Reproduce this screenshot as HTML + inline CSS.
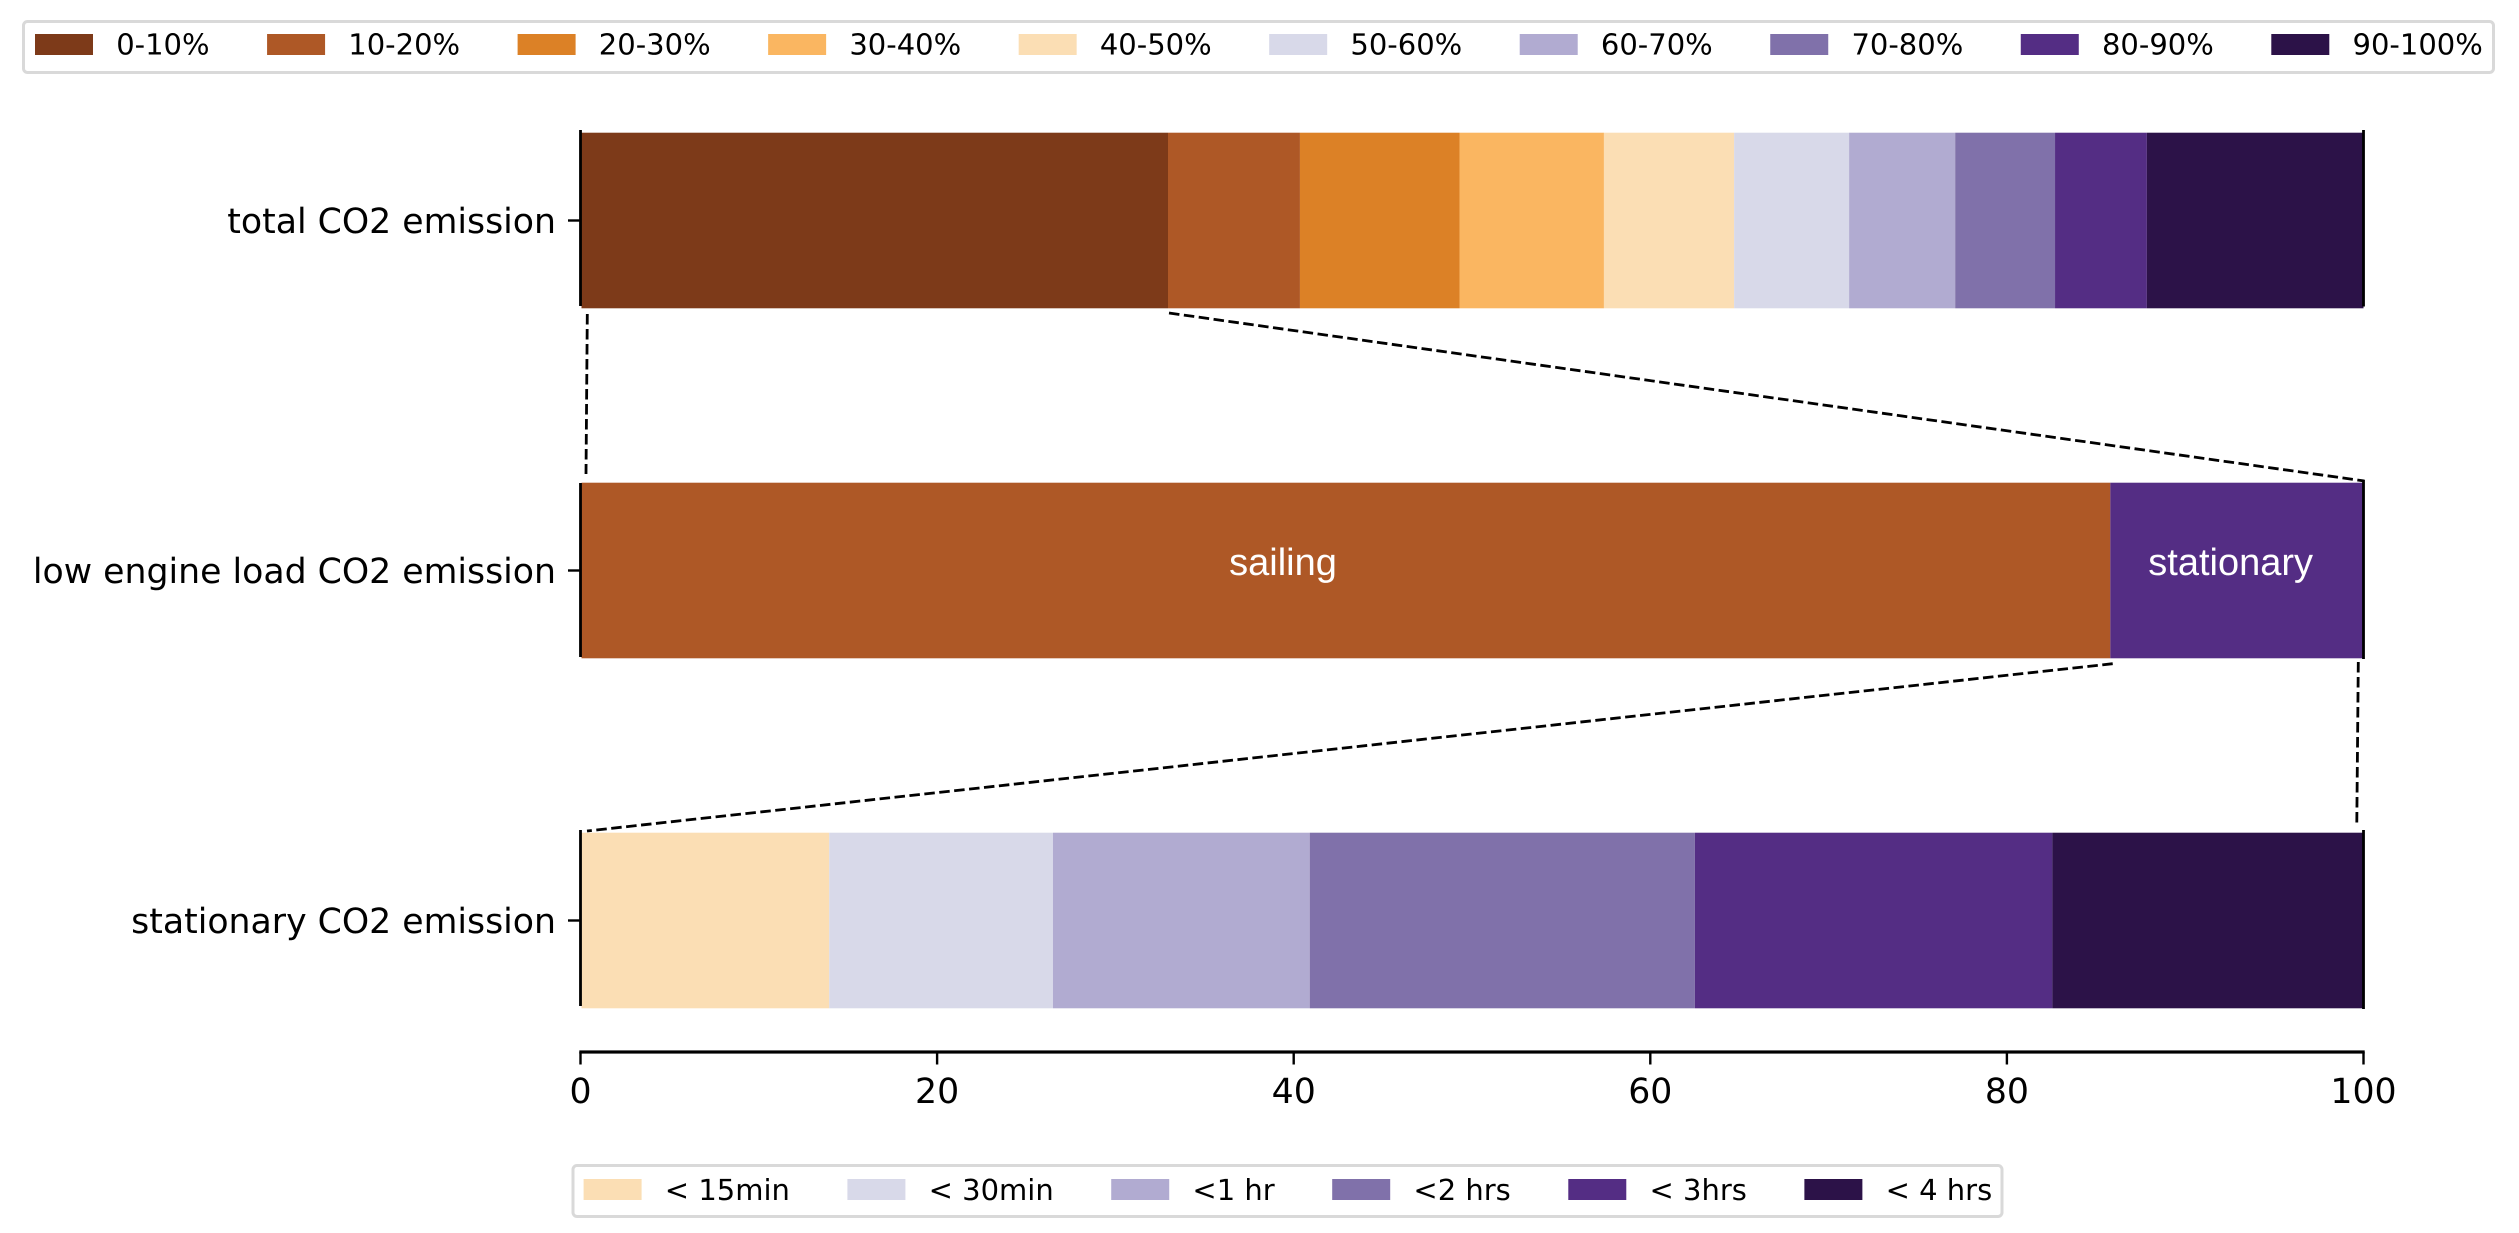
<!DOCTYPE html>
<html lang="en">
<head>
<meta charset="utf-8">
<title>CO2 emission breakdown</title>
<style>
  html, body { margin: 0; padding: 0; background: #fff; }
  body { width: 2519px; height: 1233px; overflow: hidden; }
  svg { display: block; }
  text { font-family: "DejaVu Sans", "Liberation Sans", sans-serif; fill: #000; text-rendering: geometricPrecision; }
  .bar-label { font-family: "Liberation Sans", Arial, sans-serif; fill: #fff; font-size: 38px; text-anchor: middle; }
  .tick-label { font-size: 34.7px; }
  .legend-label { font-size: 29px; }
</style>
</head>
<body>
<svg id="chart" xmlns="http://www.w3.org/2000/svg" width="2519" height="1233" viewBox="0 0 2519 1233">
  <rect x="0" y="0" width="2519" height="1233" fill="#fff"/>
  <rect x="23.5" y="21.5" width="2470" height="51" rx="4" fill="#fff" stroke="#d9d9d9" stroke-width="3"/>
  <rect x="573" y="1165.5" width="1429" height="51" rx="4" fill="#fff" stroke="#d9d9d9" stroke-width="3"/>
  <g id="bars"></g>
  <g id="connectors"></g>
  <g id="axes"></g>
  <g id="legends"></g>
</svg>
<script>
// Chart data
const categories = ['total CO2 emission', 'low engine load CO2 emission', 'stationary CO2 emission'];
const totalShares = [32.95, 7.4, 8.95, 8.1, 7.3, 6.45, 5.95, 5.6, 5.15, 12.15];
const lowLoadShares = [85.8, 14.2];
const stationaryShares = [13.95, 12.55, 14.4, 21.6, 20.05, 17.45];
const lowLoadLabels = ['sailing', 'stationary'];
const lowLoadLabelCentres = [39.4, 92.55];
const xTicks = [0, 20, 40, 60, 80, 100];
const decileLabels = ['0-10%', '10-20%', '20-30%', '30-40%', '40-50%', '50-60%', '60-70%', '70-80%', '80-90%', '90-100%'];
const durationLabels = ['< 15min', '< 30min', '<1 hr', '<2 hrs', '< 3hrs', '< 4 hrs'];

// Palettes
const decileColors = ['#7d3a19', '#ae5826', '#dc8126', '#fab661', '#fbdeb4', '#d8d9e9', '#b1abd1', '#8071aa', '#542d84', '#2c1248'];
const lowLoadColors = ['#ae5826', '#542d84'];
const durationColors = ['#fbdeb4', '#d8d9e9', '#b1abd1', '#8071aa', '#542d84', '#2c1248'];

// Axis functions
const X0 = 580.5, X100 = 2363.5;
const xScale = v => X0 + (v - 0) * (X100 - X0) / 100;
const ROW_TOP = 220.5, ROW_STEP = 350, BAR_HALF = 87.8;
const yScale = i => ROW_TOP + i * ROW_STEP;
const AXIS_Y = 1052;

const NS = 'http://www.w3.org/2000/svg';
function make(tag, parent, attrs, txt) {
  const el = document.createElementNS(NS, tag);
  for (const k in attrs) el.setAttribute(k, attrs[k]);
  if (txt !== undefined) el.textContent = txt;
  parent.appendChild(el);
  return el;
}

// Bars
const barsG = document.getElementById('bars');
const rowSeries = [totalShares, lowLoadShares, stationaryShares];
const rowColors = [decileColors, lowLoadColors, durationColors];
rowSeries.forEach((vals, r) => {
  let acc = 0;
  vals.forEach((v, i) => {
    const x0 = xScale(acc), x1 = xScale(acc + v);
    const seg = make('rect', barsG, { x: x0 + (i === 0 ? 1 : 0), y: yScale(r) - BAR_HALF, width: x1 - x0 - (i === 0 ? 1 : 0), height: BAR_HALF * 2, fill: rowColors[r][i] });
    
    
    acc += v;
  });
});
lowLoadLabels.forEach((name, i) => {
  const lab = make('text', barsG, { x: xScale(lowLoadLabelCentres[i]), y: yScale(1) + 4.5, 'class': 'bar-label' }, name);
  
  
});

// Connectors between rows
const connG = document.getElementById('connectors');
const connectorStyle = { fill: 'none', stroke: '#000', 'stroke-width': 2.8, 'stroke-dasharray': '10.5 4.5' };
function connector(name, xa, ya, xb, yb) {
  const ln = make('line', connG, Object.assign({ x1: xa, y1: ya, x2: xb, y2: yb }, connectorStyle));
  
  
}
connector('connector-top-left', xScale(0) + 6.8, yScale(0) + 93.5, xScale(0) + 5.5, yScale(1) - 96.5);
connector('connector-top-right', xScale(totalShares[0]) + 1, yScale(0) + 92.5, xScale(100) + 1, yScale(1) - 89.5);
connector('connector-bottom-left', xScale(lowLoadShares[0]) + 2.4, yScale(1) + 93.2, xScale(0) + 6.5, yScale(2) - 89.5);
connector('connector-bottom-right', xScale(100) - 5.2, yScale(1) + 91.5, xScale(100) - 6.7, yScale(2) - 97.8);

// Axes
const axesG = document.getElementById('axes');
categories.forEach((c, r) => {
  const cy = yScale(r);
  const ls = make('rect', axesG, { x: X0 - 1.4, y: cy - 90.5 + (r === 1 ? 3 : 0), width: 2.8, height: 176 - (r === 1 ? 2 : 0), fill: '#000' });
  
  
  const rs = make('rect', axesG, { x: X100 - 1.4, y: cy - 90.5, width: 2.8, height: r === 0 ? 176.5 : 179, fill: '#000' });
  
  
  const t = make('rect', axesG, { x: X0 - 12.5, y: cy - 1.2, width: 12.5, height: 2.4, fill: '#000' });
  
  
  const lab = make('text', axesG, { x: 556, y: cy + 12.5, 'text-anchor': 'end', 'class': 'tick-label' }, c);
  
  
});
const baseLine = make('rect', axesG, { x: X0 - 1.2, y: AXIS_Y - 1.6, width: X100 - X0 + 2.4, height: 3.2, fill: '#000' });


xTicks.forEach(v => {
  const t = make('rect', axesG, { x: xScale(v) - 1.2, y: AXIS_Y, width: 2.4, height: 12.5, fill: '#000' });
  
  
  const lab = make('text', axesG, { x: xScale(v), y: 1103, 'text-anchor': 'middle', 'class': 'tick-label' }, String(v));
  
  
});

// Legends
const legG = document.getElementById('legends');
function drawLegend(prefix, labels, colors, startX, swatchY, baseY) {
  let x = startX;
  labels.forEach((label, i) => {
    const g = make('g', legG, {});
    
    
    const sw = make('rect', g, { x: x, y: swatchY, width: 58, height: 21, fill: colors[i] });
    
    
    const tx = make('text', g, { x: x + 81.2, y: baseY, 'class': 'legend-label' }, label);
    
    
    x += 81.2 + tx.getComputedTextLength() + 57.5;
  });
}
drawLegend('decile', decileLabels, decileColors, 35, 34, 54.5);
drawLegend('duration', durationLabels, durationColors, 583.6, 1179, 1200);
</script>
</body>
</html>
